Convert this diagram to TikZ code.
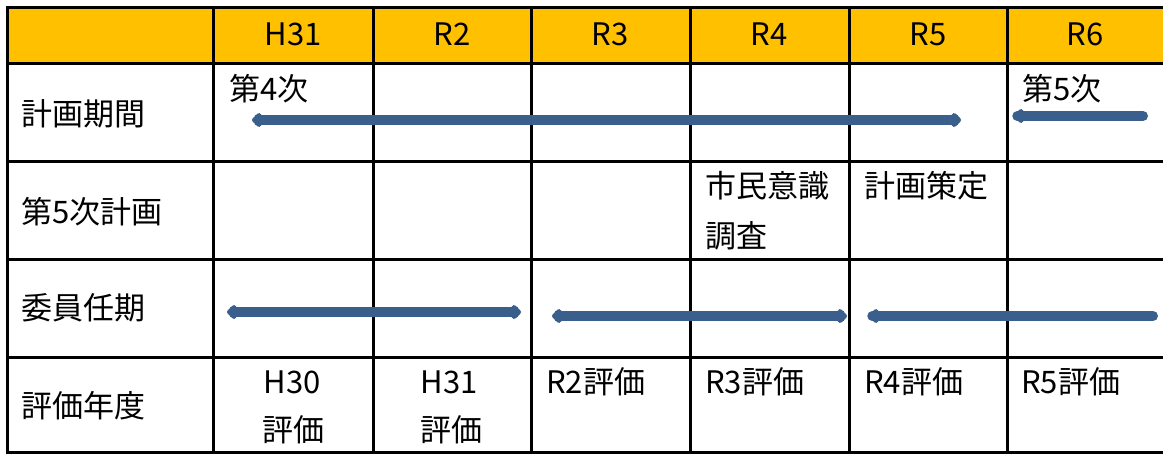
\documentclass[tikz,border=0pt]{standalone}
\usepackage{fontspec}
\setmainfont{Noto Sans CJK JP}
\usetikzlibrary{arrows.meta}
\definecolor{hdr}{HTML}{FFC000}
\definecolor{bar}{HTML}{3A5F8C}
\tikzset{
  grid/.style={line width=3pt,black},
  txt/.style={inner sep=0pt,font=\fontsize{31}{35}\selectfont},
  lbl/.style={txt,anchor=west},
  ctr/.style={txt,anchor=center},
  period/.style={line width=10pt,bar},
  barhead/.tip={Kite[width=18pt,length=12pt,inset=3pt,round]},
}
\begin{document}
\begin{tikzpicture}[x=1pt,y=-1pt]
\useasboundingbox (0,0) rectangle (1163,455);
% header fill
\fill[hdr] (7,7) rectangle (1163,63);
% grid
\draw[grid] (1163,7) -- (7,7) -- (7,452) -- (1163,452);
\foreach \y in {63,161,259,357} \draw[grid] (7,\y) -- (1163,\y);
\foreach \x in {213,373,531,690,849,1007} \draw[grid] (\x,7) -- (\x,452);
% header texts
\node[ctr] (h1) at (293,34) {H31};
\node[ctr] (h2) at (452,34) {R2};
\node[ctr] (h3) at (610,34) {R3};
\node[ctr] (h4) at (769,34) {R4};
\node[ctr] (h5) at (928,34) {R5};
\node[ctr] (h6) at (1085,34) {R6};
% row labels
\node[lbl] (r1) at (21,114) {計画期間};
\node[lbl] (r2) at (21,212) {第5次計画};
\node[lbl] (r3) at (21,308) {委員任期};
\node[lbl] (r4) at (21,406) {評価年度};
% row 1
\node[lbl] (p4) at (229,89) {第4次};
\node[lbl] (p5) at (1022,89) {第5次};
\coordinate (a1s) at (252,120);
\coordinate (a1e) at (961,120);
\draw[period,barhead-barhead] (a1s) -- (a1e);
\coordinate (a2s) at (1014,116);
\coordinate (a2e) at (1143,116);
\draw[period,line cap=round,barhead-] (a2s) -- (a2e);
% row 2
\node[lbl] (s1) at (705,186) {市民意識};
\node[lbl] (s2) at (705,236) {調査};
\node[lbl] (s3) at (864,186) {計画策定};
% row 3
\coordinate (b1s) at (227,312);
\coordinate (b1e) at (521,312);
\draw[period,barhead-barhead] (b1s) -- (b1e);
\coordinate (b2s) at (552,316);
\coordinate (b2e) at (847,316);
\draw[period,barhead-barhead] (b2s) -- (b2e);
\coordinate (b3s) at (869,316);
\coordinate (b3e) at (1153,316);
\draw[period,line cap=round,barhead-] (b3s) -- (b3e);
% row 4
\node[ctr] (e1a) at (292,382) {H30};
\node[ctr] (e1b) at (293,430) {評価};
\node[ctr] (e2a) at (449,382) {H31};
\node[ctr] (e2b) at (451,430) {評価};
\node[lbl] (e3) at (546,382) {R2評価};
\node[lbl] (e4) at (705,382) {R3評価};
\node[lbl] (e5) at (864,382) {R4評価};
\node[lbl] (e6) at (1021,382) {R5評価};
\end{tikzpicture}
\end{document}
